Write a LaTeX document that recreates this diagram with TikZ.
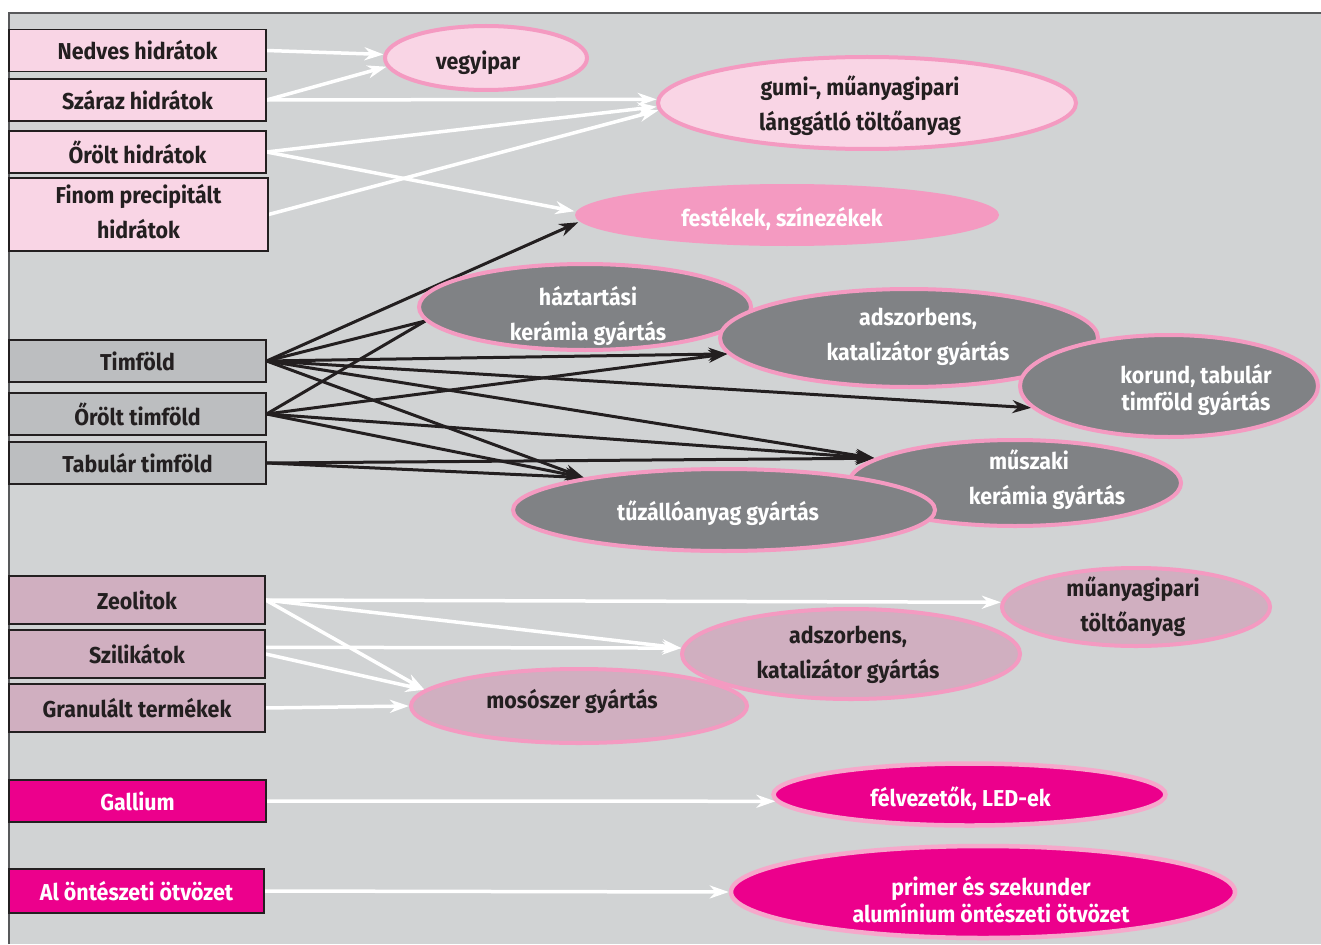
\documentclass[tikz,border=0pt]{standalone}
\usepackage{fontspec}
\setmainfont{Fira Sans}[FakeStretch=0.93]
\usetikzlibrary{shapes.geometric,arrows.meta}
\definecolor{bggray}{HTML}{D1D3D4}
\definecolor{framec}{HTML}{58595B}
\definecolor{lpink}{HTML}{F9D5E5}
\definecolor{mpink}{HTML}{F49AC1}
\definecolor{boxgray}{HTML}{BCBEC0}
\definecolor{dgray}{HTML}{808285}
\definecolor{mauve}{HTML}{D0AFC0}
\definecolor{magentab}{HTML}{EC008C}
\definecolor{ink}{HTML}{231F20}
\definecolor{softpink}{HTML}{F6A8CB}
\pgfdeclarelayer{back}
\pgfdeclarelayer{edges}
\pgfsetlayers{back,edges,main}
\newcommand\sh[3]{\kern#1\raisebox{#2}[\height][\depth]{#3}\kern-#1}
\newcommand\two[2]{\begin{tabular}{@{}c@{}}#1\\#2\end{tabular}}
\begin{document}
\begin{tikzpicture}[x=1pt,y=-1pt,
  font=\fontsize{23}{35}\selectfont\bfseries,
  src/.style={draw=ink, line width=1.2pt, inner sep=0pt, minimum width=257pt, minimum height=42pt, text=ink},
  pbox/.style={src, fill=lpink},
  gbox/.style={src, fill=boxgray},
  mbox/.style={src, fill=mauve, minimum width=256pt, minimum height=48pt},
  kbox/.style={src, fill=magentab, text=white},
  ell/.style={ellipse, inner sep=-10pt, line width=4pt},
  pell/.style={ell, draw=mpink, fill=lpink, text=ink},
  gell/.style={ell, draw=mpink, fill=dgray, text=white},
  mell/.style={ell, draw=mpink, fill=mauve, text=ink},
  kell/.style={ell, draw=softpink, line width=4.5pt, fill=magentab, text=white},
  wa/.style={draw=white, line width=3.5pt, -{Stealth[length=19pt,width=13pt,inset=6pt]}},
  ba/.style={draw=ink, line width=3pt, -{Stealth[length=19pt,width=13pt,inset=6pt]}},
  bl/.style={draw=ink, line width=3pt}]
\useasboundingbox (0,0) rectangle (1321,944);
\begin{pgfonlayer}{back}
  \fill[white] (0,0) rectangle (1321,944);
  \fill[bggray] (9,13) rectangle (1321,944);
  \draw[framec, line width=1.5pt] (9,944) -- (9,13) -- (1321,13);
\end{pgfonlayer}

% source boxes
\node[pbox] (nedves) at (137.5,50.5) {Nedves hidrátok};
\node[pbox] (szaraz) at (137.5,100) {Száraz hidrátok};
\node[pbox] (orolth) at (137.5,152) {Őrölt hidrátok};
\node[pbox, minimum width=259pt, minimum height=73pt] (finom) at (138.5,214.5) {\two{Finom precipitált}{hidrátok}};
\node[gbox] (tim) at (137.5,361) {Timföld};
\node[gbox] (oroltt) at (137.5,414) {Őrölt timföld};
\node[gbox] (tab) at (137.5,463) {Tabulár timföld};
\node[mbox] (zeo) at (137,600) {Zeolitok};
\node[mbox] (szil) at (137,654) {Szilikátok};
\node[mbox] (gran) at (137,708) {Granulált termékek};
\node[kbox] (gall) at (137.5,801) {Gallium};
\node[kbox, minimum width=255pt, minimum height=44pt] (al) at (136.5,891) {Al öntészeti ötvözet};

% target ellipses
\node[pell, minimum width=202pt, minimum height=64pt] (vegy) at (486,58) {\sh{-8pt}{-5pt}{vegyipar}};
\node[pell, minimum width=418pt, minimum height=92pt] (gumi) at (867,103) {\sh{-7pt}{-3.5pt}{\two{gumi-, műanyagipari}{lánggátló töltőanyag}}};
\node[ell, fill=mpink, text=white, minimum width=424pt, minimum height=62pt] (fest) at (787,215) {\sh{-5pt}{-4pt}{festékek, színezékek}};
\node[gell, minimum width=332pt, minimum height=86pt] (hazt) at (585,307) {\sh{3pt}{-9pt}{\two{háztartási}{kerámia gyártás}}};
\node[gell, minimum width=378pt, minimum height=98pt] (adsz) at (909,338) {\sh{9pt}{2pt}{\two{adszorbens,}{katalizátor gyártás}}};
\node[gell, minimum width=298pt, minimum height=102pt] (korund) at (1169,386) {\sh{27pt}{-5pt}{{\def\arraystretch{0.75}\two{korund, tabulár}{timföld gyártás}}}};
\node[gell, minimum width=332pt, minimum height=86pt] (musz) at (1015,483) {\sh{32pt}{3pt}{\two{műszaki\hspace*{36pt}}{kerámia gyártás}}};
\node[gell, minimum width=422pt, minimum height=82pt] (tuz) at (724,510) {\sh{-6pt}{-3pt}{tűzállóanyag gyártás}};
\node[mell, minimum width=268pt, minimum height=78pt] (muany) at (1136,607) {\sh{-3pt}{0pt}{\two{műanyagipari}{töltőanyag}}};
\node[mell, minimum width=336pt, minimum height=74pt] (moso) at (579,706) {\sh{-7pt}{5pt}{mosószer gyártás}};
\node[mell, minimum width=338pt, minimum height=90pt] (adsz2) at (851,654) {\sh{-3pt}{0pt}{\two{adszorbens,}{katalizátor gyártás}}};
\node[kell, minimum width=392pt, minimum height=62pt] (felv) at (969.5,794.5) {\sh{-9pt}{-4.5pt}{félvezetők, LED-ek}};
\node[kell, minimum width=504pt, minimum height=92pt] (primer) at (983,892) {\sh{8pt}{-11.5pt}{{\def\arraystretch{0.75}\two{primer és szekunder}{alumínium öntészeti ötvözet}}}};

\begin{pgfonlayer}{edges}
  % hydrates
  \draw[wa] (nedves.east) -- (vegy.178);
  \draw[wa] (szaraz.east) -- (vegy.185);
  \draw[wa] (szaraz.east) -- (gumi.179);
  \draw[wa] (orolth.east) -- (gumi.181);
  \draw[wa] (orolth.east) -- (fest.179);
  \draw[wa] (finom.east) -- (gumi.182);
  % alumina
  \draw[ba] (tim.east) -- (fest.182);
  \draw[bl] (tim.east) -- (hazt.185);
  \draw[ba] (tim.east) -- (adsz.185);
  \draw[ba] (tim.east) -- (korund.189);
  \draw[ba] (tim.east) -- (musz.170);
  \draw[ba] (tim.east) -- (tuz.167);
  \draw[bl] (oroltt.east) -- (hazt.185);
  \draw[ba] (oroltt.east) -- (adsz.185);
  \draw[ba] (oroltt.east) -- (musz.170);
  \draw[ba] (oroltt.east) -- (tuz.167);
  \draw[ba] (tab.east) -- (musz.170);
  \draw[ba] (tab.east) -- (tuz.167);
  % zeolites
  \draw[wa] (zeo.east) -- (muany.178);
  \draw[wa] (zeo.east) -- (adsz2.178);
  \draw[wa] (zeo.east) -- (moso.174);
  \draw[wa] (szil.3) -- (adsz2.178);
  \draw[wa] (szil.east) -- (moso.174);
  \draw[wa] (gran.east) -- (moso.180);
  % gallium, alloy
  \draw[wa] (gall.east) -- (felv.182);
  \draw[wa] (al.east) -- (primer.180);
\end{pgfonlayer}
\end{tikzpicture}
\end{document}
